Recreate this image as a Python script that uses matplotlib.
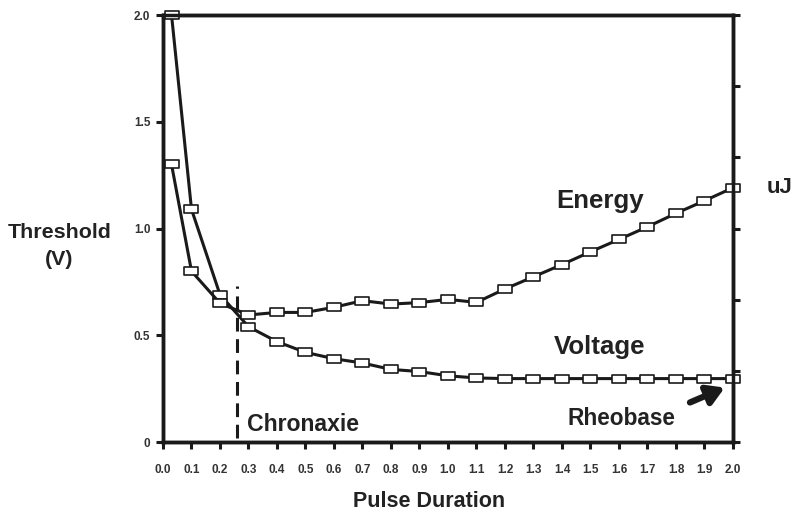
import matplotlib
matplotlib.use("Agg")
import matplotlib.pyplot as plt
from matplotlib.path import Path
import numpy as np

plt.rcParams['font.family'] = ['Liberation Sans', 'DejaVu Sans']

pulse = [0.03, 0.1, 0.2, 0.3, 0.4, 0.5, 0.6, 0.7, 0.8, 0.9, 1.0,
         1.1, 1.2, 1.3, 1.4, 1.5, 1.6, 1.7, 1.8, 1.9, 2.0]
voltage = [2.0, 1.09, 0.69, 0.54, 0.47, 0.42, 0.39, 0.37, 0.34, 0.33, 0.31,
           0.30, 0.297, 0.297, 0.297, 0.297, 0.297, 0.297, 0.297, 0.297, 0.297]
energy = [1.30, 0.80, 0.65, 0.595, 0.607, 0.607, 0.631, 0.662, 0.646, 0.653, 0.668,
          0.654, 0.717, 0.774, 0.831, 0.891, 0.949, 1.008, 1.071, 1.130, 1.191]
xticks = [round(0.1 * i, 1) for i in range(21)]
xticklabels = [f"{v:.1f}" for v in xticks]
yticks = [0, 0.5, 1.0, 1.5, 2.0]
yticklabels = ["0", "0.5", "1.0", "1.5", "2.0"]
chronaxie = 0.26

rect = Path([(-0.8, -0.5), (0.8, -0.5), (0.8, 0.5), (-0.8, 0.5), (-0.8, -0.5)],
            [Path.MOVETO, Path.LINETO, Path.LINETO, Path.LINETO, Path.CLOSEPOLY])

fig = plt.figure(figsize=(7.92, 5.16), dpi=100)
ax = fig.add_axes([0.2058, 0.1434, 0.7197, 0.8275])

style = dict(color='#1a1a1a', lw=2.2, marker=rect, ms=9.5, mfc='white',
             mec='#1a1a1a', mew=1.2, clip_on=False, zorder=3)
ax.plot(pulse, voltage, **style)
ax.plot(pulse, energy, **style)

ax.plot([chronaxie, chronaxie], [0.02, 0.73], color='#1a1a1a', lw=2.2,
        dashes=(4.5, 2.5), zorder=2)

ax.set_xlim(0, 2.0)
ax.set_ylim(0, 2.0)
ax.set_xticks(xticks)
ax.set_xticklabels(xticklabels, fontsize=8.5, fontweight='bold', color='#333333')
ax.set_yticks(yticks)
ax.set_yticklabels(yticklabels, fontsize=8.5, fontweight='bold', color='#333333')
ax.tick_params(axis='both', direction='out', length=5, width=2.2, color='#1a1a1a')
ax.tick_params(axis='x', pad=11)
ax.tick_params(axis='y', pad=4)
for s in ax.spines.values():
    s.set_linewidth(2.5)
    s.set_color('#1a1a1a')

ax2 = ax.twinx()
ax2.set_ylim(0, 6)
ax2.set_yticks(range(7))
ax2.set_yticklabels([])
ax2.tick_params(axis='y', direction='out', length=5, width=2.2, color='#1a1a1a')
for s in ax2.spines.values():
    s.set_linewidth(2.5)
    s.set_color('#1a1a1a')

txt = dict(fontweight='bold', color='#222222')
ax.text(0.295, 0.08, "Chronaxie", ha='left', va='center', fontsize=16.6, **txt)
ax.text(1.38, 1.13, "Energy", ha='left', va='center', fontsize=18.6, **txt)
ax.text(1.37, 0.445, "Voltage", ha='left', va='center', fontsize=18.6, **txt)
ax.text(1.42, 0.11, "Rheobase", ha='left', va='center', fontsize=16.3, **txt)
ax.annotate("", xy=(1.98, 0.26), xytext=(1.84, 0.18),
            arrowprops=dict(arrowstyle='-|>,head_length=1.0,head_width=0.6',
                            lw=4.5, color='#1a1a1a'))

fig.text(0.075, 0.523, "Threshold\n(V)", ha='center', va='center',
         fontsize=15.4, fontweight='bold', color='#222222', linespacing=1.5)
fig.text(0.984, 0.636, "uJ", ha='center', va='center',
         fontsize=16, fontweight='bold', color='#222222')
fig.text(0.542, 0.028, "Pulse Duration", ha='center', va='center',
         fontsize=15.5, fontweight='bold', color='#222222')

fig.savefig("out.png", dpi=100)
